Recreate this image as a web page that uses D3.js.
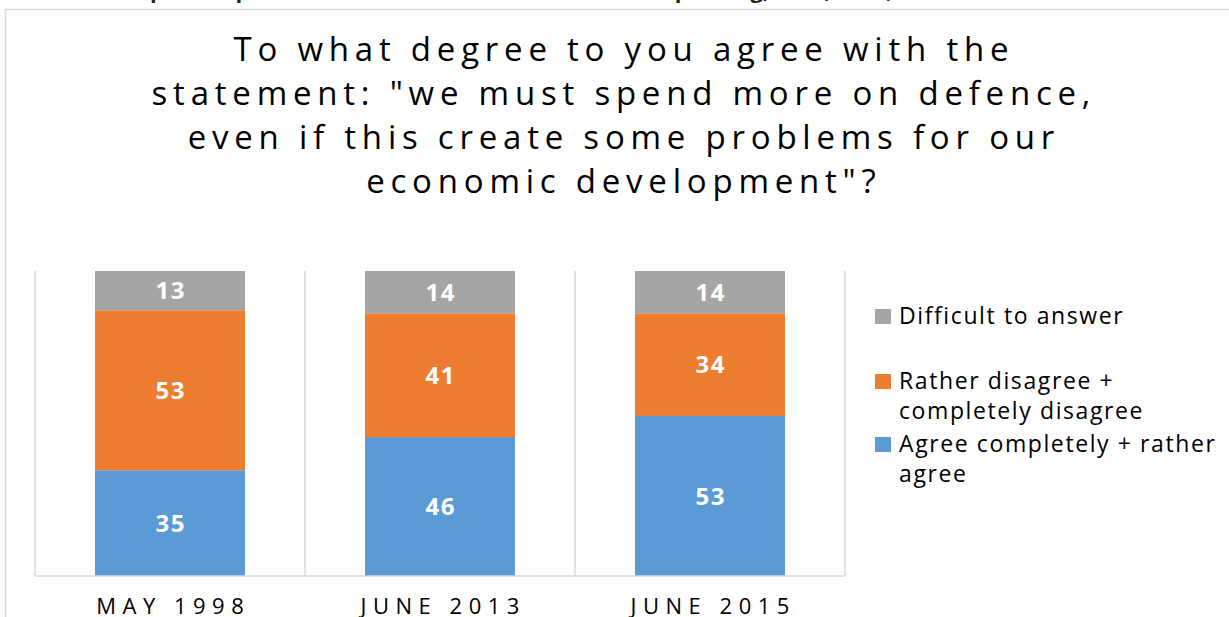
<!DOCTYPE html>
<html>
<head>
<meta charset="utf-8">
<script src="https://cdn.jsdelivr.net/npm/d3@7"></script>
<style>
  html, body { margin: 0; padding: 0; background: #fff; }
  svg { display: block; }
</style>
</head>
<body>
<svg id="chart" width="1229" height="617"></svg>
<script>
// ---- data ----
const categories = ["MAY 1998", "JUNE 2013", "JUNE 2015"];
const agree = [35, 46, 53];
const disagree = [53, 41, 34];
const difficult = [13, 14, 14];
const seriesNames = ["Agree completely + rather agree", "Rather disagree + completely disagree", "Difficult to answer"];
const seriesColors = ["#5b9bd5", "#ed7d31", "#a5a5a5"];
const titleLines = [
  "To what degree to you agree with the",
  "statement: \"we must spend more on defence,",
  "even if this create some problems for our",
  "economic development\"?"
];
const headerText = "Russian public opinion on the need to increase defence spending, 1998, 2013, 2015";
const legendItems = [
  { name: "Difficult to answer", lines: ["Difficult to answer"], color: "#a5a5a5" },
  { name: "Rather disagree + completely disagree", lines: ["Rather disagree +", "completely disagree"], color: "#ed7d31" },
  { name: "Agree completely + rather agree", lines: ["Agree completely + rather", "agree"], color: "#5b9bd5" }
];

const svg = d3.select("#chart");
const FONT = "'Open Sans', 'DejaVu Sans', sans-serif";
const GRID = "#d9d9d9";

// ---- cropped header text above the frame ----
const hdr = svg.append("text")
  .attr("font-family", FONT).attr("font-weight", "bold")
  .attr("font-size", 20).attr("fill", "#222")
  .attr("x", 0).attr("y", -2)
  .text(headerText);
(function calibrate() {
  const node = hdr.node();
  const i1 = headerText.indexOf("public");
  const i2 = headerText.indexOf("spending") + 1;
  const o1 = node.getSubStringLength(0, i1);
  const o2 = node.getSubStringLength(0, i2);
  const k = (675 - 150) / (o2 - o1);
  const fs = 20 * k;
  hdr.attr("font-size", fs).attr("x", 150 - o1 * k).attr("y", 3 - 0.24 * fs);
})();

// ---- frame ----
svg.append("rect")
  .attr("x", 5.5).attr("y", 9.5).attr("width", 1400).attr("height", 800)
  .attr("fill", "none").attr("stroke", GRID).attr("stroke-width", 1.5);

// ---- title ----
const title = svg.append("text")
  .attr("font-family", FONT).attr("font-size", 33).attr("fill", "#000")
  .attr("text-anchor", "middle");
title.selectAll("tspan").data(titleLines).join("tspan")
  .attr("x", 621).attr("y", (d, i) => 61 + i * 44)
  .text(d => d);
(function fitTitle() {
  const t = title.select("tspan").node();
  const natural = t.getComputedTextLength();
  const n = titleLines[0].length;
  const ls = Math.max(0, (775 - natural) / (n - 1));
  title.attr("letter-spacing", ls);
  title.selectAll("tspan").attr("dx", ls / 2);
})();

// ---- scales ----
const x = d3.scaleBand().domain(categories)
  .range([35, 845]).paddingInner(0.4444).paddingOuter(0.2222);
const rows = categories.map((c, i) => ({ cat: c, agree: agree[i], disagree: disagree[i], difficult: difficult[i] }));
const keys = ["agree", "disagree", "difficult"];
const stacked = d3.stack().keys(keys)(rows);
const maxTotal = d3.max(rows, r => r.agree + r.disagree + r.difficult);
const y = d3.scaleLinear().domain([0, maxTotal]).range([576, 271]);

// ---- gridlines between categories ----
const step = x.step();
const bounds = [35].concat(categories.map(c => x(c) - x.paddingOuter() * step + step));
svg.append("g").selectAll("line").data(bounds).join("line")
  .attr("x1", d => d).attr("x2", d => d)
  .attr("y1", y(maxTotal)).attr("y2", y(0))
  .attr("stroke", GRID).attr("stroke-width", 1.5);

// ---- bars ----
const g = svg.append("g");
stacked.forEach((layer, li) => {
  const grp = g.append("g").attr("fill", seriesColors[li]);
  grp.selectAll("rect").data(layer).join("rect")
    .attr("x", d => x(d.data.cat))
    .attr("width", x.bandwidth())
    .attr("y", d => y(d[1]))
    .attr("height", d => y(d[0]) - y(d[1]));
  g.append("g").selectAll("text").data(layer).join("text")
    .attr("x", d => x(d.data.cat) + x.bandwidth() / 2 + 0.75)
    .attr("y", d => (y(d[0]) + y(d[1])) / 2)
    .attr("dy", "0.36em")
    .attr("text-anchor", "middle")
    .attr("font-family", FONT).attr("font-weight", "bold")
    .attr("font-size", 24).attr("letter-spacing", 1.5)
    .attr("fill", "#fff")
    .text(d => d[1] - d[0]);
});

// ---- x axis ----
const xAxis = svg.append("g").attr("transform", `translate(0,${y(0)})`)
  .call(d3.axisBottom(x).tickSize(0).tickPadding(30));
xAxis.select(".domain").remove();
xAxis.append("line").attr("x1", 35).attr("x2", 845).attr("y1", 0).attr("y2", 0)
  .attr("stroke", GRID).attr("stroke-width", 1.5);
xAxis.selectAll(".tick text")
  .attr("font-family", FONT).attr("font-size", 22).attr("fill", "#000")
  .attr("letter-spacing", 6.5).attr("dx", 3.25)
  .attr("dy", 0).attr("y", 38);

// ---- legend ----
const legendTop = [316, 381, 444];
const lg = svg.append("g");
legendItems.forEach((item, i) => {
  const cy = legendTop[i];
  lg.append("rect").attr("x", 875).attr("y", cy - 7).attr("width", 16).attr("height", 15)
    .attr("fill", item.color);
  const t = lg.append("text").attr("font-family", FONT).attr("font-size", 23)
    .attr("letter-spacing", 1.6).attr("fill", "#000");
  t.selectAll("tspan").data(item.lines).join("tspan")
    .attr("x", 899).attr("y", (d, j) => cy + 8 + j * 30)
    .text(d => d);
});
</script>
</body>
</html>
